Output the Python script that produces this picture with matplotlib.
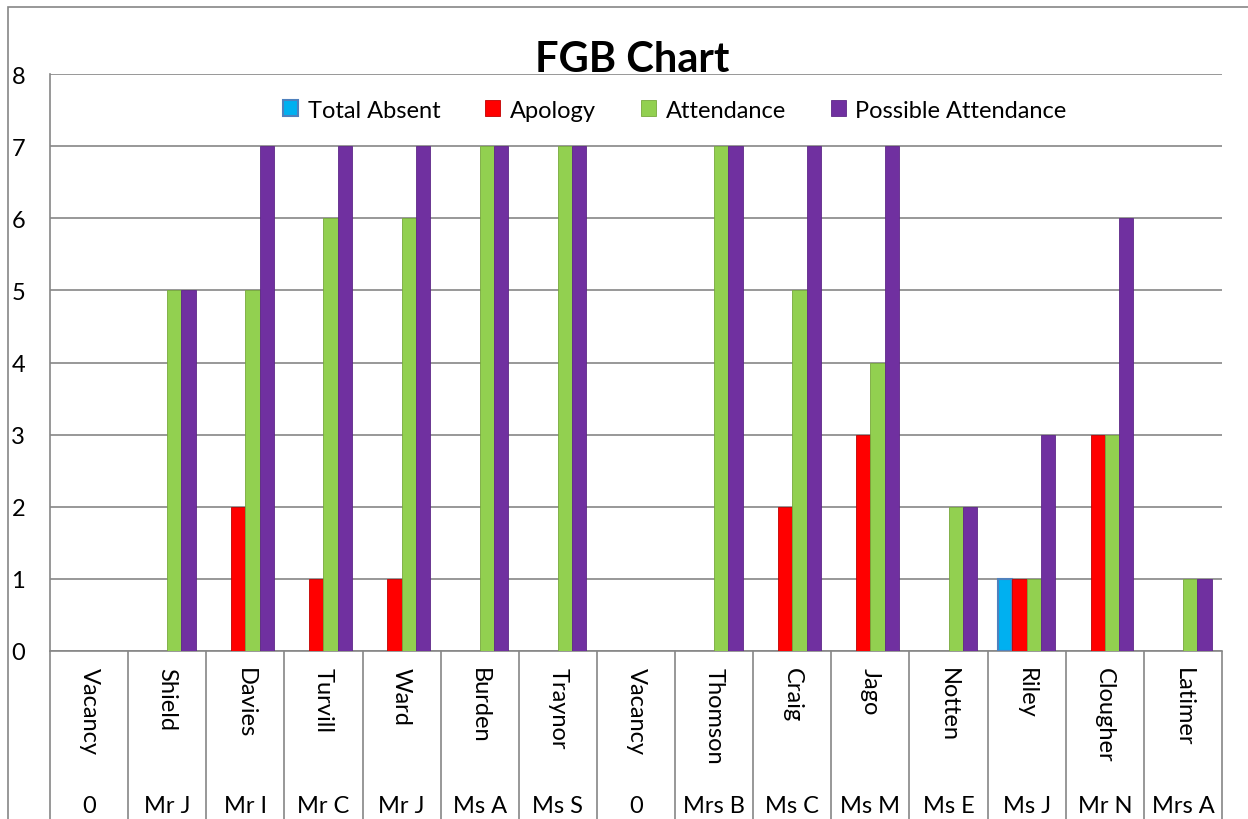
import matplotlib.pyplot as plt
import matplotlib.transforms as mtransforms
from matplotlib.patches import Rectangle
import numpy as np

plt.rcParams['font.family'] = ['Lato', 'DejaVu Sans']

surnames = ['Vacancy', 'Shield', 'Davies', 'Turvill', 'Ward', 'Burden', 'Traynor', 'Vacancy',
            'Thomson', 'Craig', 'Jago', 'Notten', 'Riley', 'Clougher', 'Latimer']
titles = ['0', 'Mr J', 'Mr I', 'Mr C', 'Mr J', 'Ms A', 'Ms S', '0',
          'Mrs B', 'Ms C', 'Ms M', 'Ms E', 'Ms J', 'Mr N', 'Mrs A']

total_absent = [0, 0, 0, 0, 0, 0, 0, 0, 0, 0, 0, 0, 1, 0, 0]
apology = [0, 0, 2, 1, 1, 0, 0, 0, 0, 2, 3, 0, 1, 3, 0]
attendance = [0, 5, 5, 6, 6, 7, 7, 0, 7, 5, 4, 2, 1, 3, 1]
possible = [0, 5, 7, 7, 7, 7, 7, 0, 7, 7, 7, 2, 3, 6, 1]

series_names = ['Total Absent', 'Apology', 'Attendance', 'Possible Attendance']
series_vals = [total_absent, apology, attendance, possible]
fills = ['#00B0F0', '#FF0000', '#92D050', '#7030A0']
edges = ['#4F81BD', '#C00000', '#77A83C', '#5E2888']

W, H = 1248, 820
fig = plt.figure(figsize=(W / 100, H / 100), dpi=100)

# outer chart border
fig.patches.append(Rectangle((8 / W, -0.1), 2, (H - 8) / H + 0.1, transform=fig.transFigure,
                             fill=False, edgecolor='#868686', linewidth=1.2))

left, right, top, bottom = 50, 1222, 75, 652
ax = fig.add_axes([left / W, (H - bottom) / H, (right - left) / W, (bottom - top) / H])

x = np.arange(len(surnames))
w = 0.183
for i in range(4):
    lw = 1.5 if i == 0 else 0.6
    ax.bar(x + (i - 1.5) * w, series_vals[i], width=w, color=fills[i], edgecolor=edges[i],
           linewidth=[lw if v else 0 for v in series_vals[i]], label=series_names[i], zorder=3)

ax.set_xlim(-0.5, len(surnames) - 0.5)
ax.set_ylim(0, 8)
ax.set_yticks(range(0, 9))
ax.yaxis.grid(True, color='#868686', linewidth=1.2, zorder=0)
ax.set_xticks([])
ax.tick_params(axis='y', length=0, pad=18, labelsize=17)
for s in ['right', 'top']:
    ax.spines[s].set_visible(False)
for s in ['left', 'bottom']:
    ax.spines[s].set_color('#868686')
    ax.spines[s].set_linewidth(1.2)

# category label table below the axis
trans = mtransforms.blended_transform_factory(ax.transData, ax.transAxes)
ax.vlines(np.arange(len(surnames) + 1) - 0.5, -0.4, 0, transform=trans, clip_on=False,
          color='#868686', linewidth=1.2)
for xi in x:
    ax.text(xi, -0.027, surnames[xi], transform=trans, rotation=-90, ha='center', va='top',
            fontsize=17)
    ax.text(xi, -0.267, titles[xi], transform=trans, ha='center', va='center', fontsize=17)

leg = ax.legend(loc='center', bbox_to_anchor=(0.533, 0.9376), ncol=4, frameon=False, fontsize=17,
                handlelength=0.65, handleheight=0.65, handletextpad=0.4, columnspacing=1.9)
for h, lw in zip(leg.legend_handles, [1.5, 0.6, 0.6, 0.6]):
    h.set_linewidth(lw)

fig.text(632 / W, (H - 60) / H, 'FGB Chart', ha='center', va='center', fontsize=30,
         fontweight='bold')

fig.savefig('out.png', dpi=100)
